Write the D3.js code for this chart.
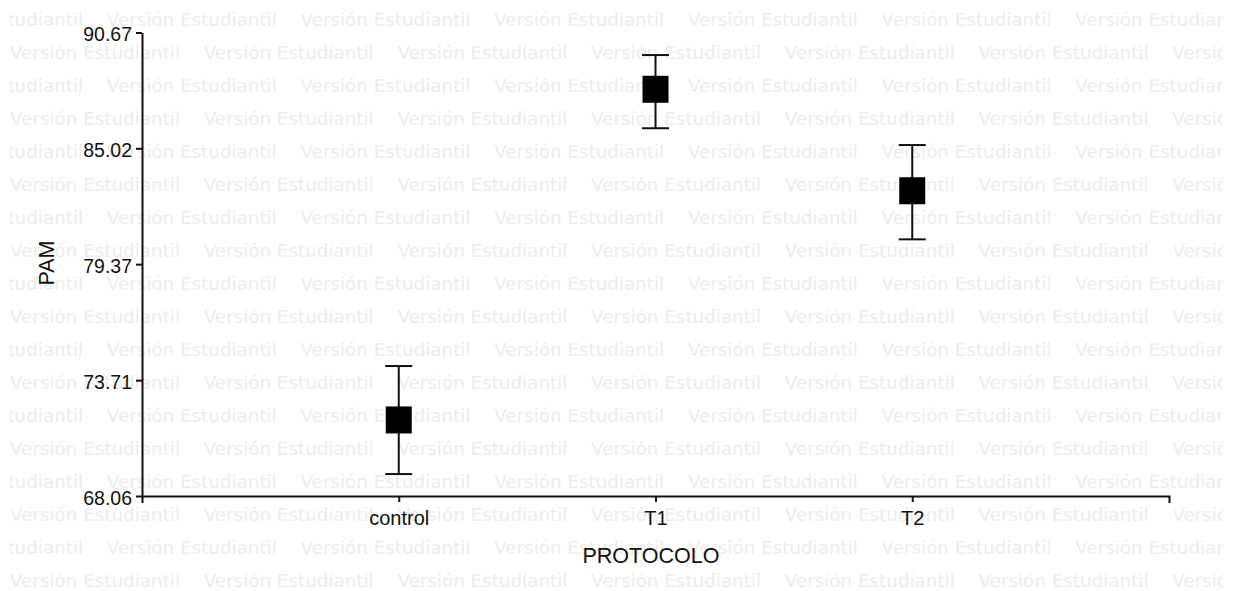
<!DOCTYPE html>
<html>
<head>
<meta charset="utf-8">
<script src="https://cdn.jsdelivr.net/npm/d3@7"></script>
<style>
  html, body { margin: 0; padding: 0; background: #fff; }
  svg { display: block; }
</style>
</head>
<body>
<svg id="chart" width="1257" height="591"></svg>
<script>
// ---- data ----
const categories = ["control", "T1", "T2"];
const means = [71.77, 87.90, 82.95];
const upperValues = [74.40, 89.57, 85.18];
const lowerValues = [69.13, 86.00, 80.58];
const yTickValues = [68.06, 73.71, 79.37, 85.02, 90.67];
const yTickLabels = ["68.06", "73.71", "79.37", "85.02", "90.67"];
const xTitle = "PROTOCOLO";
const yTitle = "PAM";
const watermarkText = "Versión Estudiantil";

const svg = d3.select("#chart");
const W = 1257, H = 591;

// ---- watermark ----
svg.append("defs").append("clipPath").attr("id", "wmclip")
  .append("rect").attr("x", 10).attr("y", 0).attr("width", 1213).attr("height", H);
const wm = svg.append("g").attr("clip-path", "url(#wmclip)");
const period = 193.7;
for (let k = 0; k < 18; k++) {
  const cy = 19.5 + 33 * k;
  const start = (k % 2 === 0) ? 10 + 96.8 - period : 10;
  for (let x = start; x < 1240; x += period) {
    wm.append("text")
      .attr("x", x).attr("y", cy)
      .attr("dy", "0.36em")
      .attr("textLength", 170)
      .attr("lengthAdjust", "spacingAndGlyphs")
      .attr("font-family", "'DejaVu Sans', sans-serif")
      .attr("font-size", 17)
      .attr("fill", "#ececec")
      .text(watermarkText);
  }
}

// ---- scales ----
const x = d3.scalePoint().domain(categories).range([142, 1169]).padding(1);
const y = d3.scaleLinear().domain([68.06, 90.67]).range([496, 32.5]);

const font = "'Liberation Sans', Arial, sans-serif";

// y axis
const yAxis = d3.axisLeft(y).tickValues(yTickValues)
  .tickFormat((d, i) => yTickLabels[i]).tickSizeInner(6).tickSizeOuter(0).tickPadding(4);
const gy = svg.append("g").attr("transform", "translate(142,0)").call(yAxis);
gy.select(".domain").attr("stroke", "#111").attr("stroke-width", 2);
gy.selectAll(".tick line").attr("stroke", "#111").attr("stroke-width", 2);
gy.selectAll(".tick text").attr("font-family", font).attr("font-size", 19.5)
  .attr("fill", "#111").attr("dy", "0.42em");

// x axis
const xAxis = d3.axisBottom(x).tickSizeInner(6).tickSizeOuter(7).tickPadding(6);
const gx = svg.append("g").attr("transform", "translate(0,496)").call(xAxis);
gx.select(".domain").attr("stroke", "#111").attr("stroke-width", 2);
gx.selectAll(".tick line").attr("stroke", "#111").attr("stroke-width", 2);
gx.selectAll(".tick text").attr("font-family", font).attr("font-size", 20)
  .attr("fill", "#111").attr("dy", "0.85em");

// titles
svg.append("text").attr("x", 651).attr("y", 563).attr("text-anchor", "middle")
  .attr("font-family", font).attr("font-size", 21.5).attr("fill", "#111")
  .text(xTitle);
svg.append("text").attr("transform", "translate(54,263) rotate(-90)")
  .attr("text-anchor", "middle")
  .attr("font-family", font).attr("font-size", 21.5).attr("fill", "#111")
  .text(yTitle);

// error bars + points
const g = svg.append("g");
categories.forEach((c, i) => {
  const cx = x(c);
  g.append("line").attr("x1", cx).attr("x2", cx)
    .attr("y1", y(upperValues[i])).attr("y2", y(lowerValues[i]))
    .attr("stroke", "#111").attr("stroke-width", 2);
  [upperValues[i], lowerValues[i]].forEach(v => {
    g.append("line").attr("x1", cx - 13.5).attr("x2", cx + 13.5)
      .attr("y1", y(v)).attr("y2", y(v))
      .attr("stroke", "#111").attr("stroke-width", 2);
  });
  g.append("rect").attr("x", cx - 13).attr("y", y(means[i]) - 13.5)
    .attr("width", 26).attr("height", 27).attr("fill", "#000");
});
</script>
</body>
</html>
